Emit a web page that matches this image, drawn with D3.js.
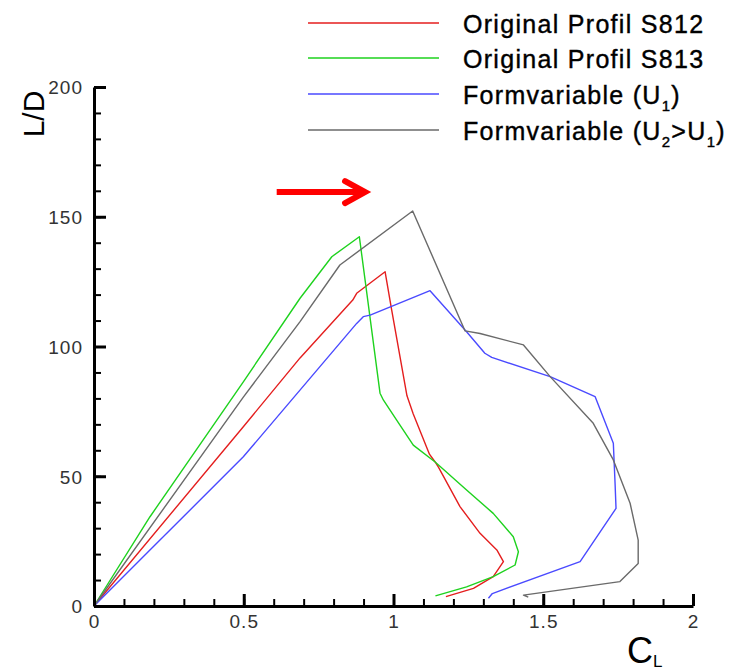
<!DOCTYPE html>
<html>
<head>
<meta charset="utf-8">
<script src="https://cdn.jsdelivr.net/npm/d3@7/dist/d3.min.js"></script>
<style>
  html, body { margin: 0; padding: 0; background: #fff; }
  svg { display: block; }
</style>
</head>
<body>
<svg id="chart" width="748" height="671"></svg>
<script>
// ---- data (C_L, L/D) ----
const s812CL = [0, 0.4986, 0.688, 0.864, 0.877, 0.972, 0.994, 1.045, 1.066, 1.12, 1.139, 1.15, 1.222, 1.289, 1.345, 1.367, 1.333, 1.267, 1.175];
const s812LD = [0, 69.1, 95.6, 117.9, 120.5, 128.8, 114, 81, 74, 58.5, 55.5, 53.5, 38.3, 28, 21.6, 17.1, 11.3, 6.8, 3.6];

const s813CL = [0, 0.187, 0.4986, 0.688, 0.794, 0.886, 0.955, 0.966, 1.01, 1.066, 1.139, 1.244, 1.333, 1.4, 1.417, 1.406, 1.333, 1.244, 1.14];
const s813LD = [0, 34.4, 86.4, 118.6, 134.6, 142.3, 82, 79.4, 71.7, 62, 55.5, 44.7, 35.7, 26.7, 20.9, 15.8, 11.3, 7.4, 3.9];

const u1CL = [0, 0.176, 0.4986, 0.877, 0.899, 0.922, 1.122, 1.244, 1.305, 1.328, 1.523, 1.673, 1.734, 1.74, 1.743, 1.623, 1.33, 1.317];
const u1LD = [0, 20.3, 57.5, 108.9, 111.5, 112.1, 121.5, 105.7, 97.4, 95.8, 88.4, 80.7, 62.7, 46.6, 37.6, 17.1, 4.8, 3.0];

const u2CL = [0, 0.4986, 0.688, 0.821, 1.064, 1.239, 1.289, 1.434, 1.523, 1.667, 1.734, 1.79, 1.817, 1.817, 1.756, 1.434, 1.45];
const u2LD = [0, 80.5, 109.6, 131.4, 152.2, 106, 105, 100.6, 88.4, 70.4, 56.3, 39.6, 25.4, 16.4, 9.4, 4.2, 3.4];

const seriesNames = ["Original Profil S812", "Original Profil S813", "Formvariable (U1)", "Formvariable (U2>U1)"];
const seriesColors = ["#e41e1e", "#1ed21e", "#4a4aff", "#6a6a6a"];

const xTicks = [0, 0.5, 1, 1.5, 2];
const xTickLabels = ["0", "0.5", "1", "1.5", "2"];
const yTicks = [0, 50, 100, 150, 200];
const yTickLabels = ["0", "50", "100", "150", "200"];

// annotation arrow (in data coordinates)
const arrowCL = [0.61, 0.905];
const arrowLD = 159.5;

// ---- drawing ----
const svg = d3.select("#chart");
const x = d3.scaleLinear().domain([0, 2]).range([94, 693]);
const y = d3.scaleLinear().domain([0, 200]).range([606, 87]);

const fontFam = "'Liberation Sans', Arial, sans-serif";

// data lines
const series = [
  { cl: s812CL, ld: s812LD },
  { cl: s813CL, ld: s813LD },
  { cl: u1CL, ld: u1LD },
  { cl: u2CL, ld: u2LD }
];
const line = d3.line().x(d => x(d[0])).y(d => y(d[1]));
series.forEach((s, i) => {
  const pts = s.cl.map((c, j) => [c, s.ld[j]]);
  svg.append("path")
    .attr("d", line(pts))
    .attr("fill", "none")
    .attr("stroke", seriesColors[i])
    .attr("stroke-width", 1.4)
    .attr("stroke-linejoin", "round");
});

// minor ticks
const xMinor = d3.axisBottom(x).tickValues(d3.range(0, 2.001, 0.1)).tickSizeInner(-7).tickSizeOuter(0).tickFormat("");
const yMinor = d3.axisLeft(y).tickValues(d3.range(0, 200.1, 10)).tickSizeInner(-7).tickSizeOuter(0).tickFormat("");
svg.append("g").attr("transform", `translate(0,${y(0)})`).call(xMinor)
  .call(g => g.select(".domain").remove())
  .selectAll("line").attr("stroke", "#000").attr("stroke-width", 2);
svg.append("g").attr("transform", `translate(${x(0)},0)`).call(yMinor)
  .call(g => g.select(".domain").remove())
  .selectAll("line").attr("stroke", "#000").attr("stroke-width", 2);

// major axes
const xAxis = d3.axisBottom(x).tickValues(xTicks).tickSizeInner(-12).tickSizeOuter(0)
  .tickPadding(20).tickFormat((d, i) => xTickLabels[i]);
const yAxis = d3.axisLeft(y).tickValues(yTicks).tickSizeInner(-12).tickSizeOuter(0)
  .tickPadding(24).tickFormat((d, i) => yTickLabels[i]);

const gx = svg.append("g").attr("transform", `translate(0,${y(0)})`).call(xAxis);
const gy = svg.append("g").attr("transform", `translate(${x(0)},0)`).call(yAxis);
[gx, gy].forEach(g => {
  g.select(".domain").attr("stroke", "#000").attr("stroke-width", 3);
  g.selectAll(".tick line").attr("stroke", "#000").attr("stroke-width", 3);
  g.selectAll(".tick text")
    .attr("font-family", fontFam)
    .attr("font-size", 19)
    .attr("letter-spacing", 1)
    .attr("fill", "#333");
});
gy.selectAll(".tick text").attr("x", -11).attr("dy", "0.36em");
gx.selectAll(".tick text").attr("y", 9).attr("dy", "0.71em");

// axis titles
svg.append("text")
  .attr("transform", "translate(44,114) rotate(-90)")
  .attr("text-anchor", "middle")
  .attr("font-family", fontFam)
  .attr("font-size", 30)
  .attr("fill", "#000")
  .text("L/D");

const cl = svg.append("text")
  .attr("x", 627).attr("y", 663)
  .attr("font-family", fontFam)
  .attr("font-size", 36)
  .attr("fill", "#000");
cl.append("tspan").text("C");
cl.append("tspan").attr("font-size", 17).attr("dy", 4).text("L");

// legend
const legY = [23, 58, 94, 130];
const leg = svg.append("g");
seriesNames.forEach((name, i) => {
  leg.append("line")
    .attr("x1", 308).attr("x2", 439)
    .attr("y1", legY[i]).attr("y2", legY[i])
    .attr("stroke", seriesColors[i]).attr("stroke-width", 1.5);
  const t = leg.append("text")
    .attr("x", 463).attr("y", legY[i] + 10)
    .attr("font-family", fontFam)
    .attr("font-size", 25)
    .attr("letter-spacing", 1.3)
    .attr("fill", "#000")
    .attr("stroke", "#000")
    .attr("stroke-width", 0.4);
  if (i < 2) {
    t.text(name);
  } else if (i === 2) {
    t.append("tspan").text("Formvariable (U");
    t.append("tspan").attr("font-size", 15).attr("dy", 7).text("1");
    t.append("tspan").attr("dy", -7).text(")");
  } else {
    t.append("tspan").text("Formvariable (U");
    t.append("tspan").attr("font-size", 15).attr("dy", 7).text("2");
    t.append("tspan").attr("dy", -7).text(">U");
    t.append("tspan").attr("font-size", 15).attr("dy", 7).text("1");
    t.append("tspan").attr("dy", -7).text(")");
  }
});

// red arrow annotation
const ax0 = x(arrowCL[0]), ax1 = x(arrowCL[1]), ay = y(arrowLD);
svg.append("path")
  .attr("d", `M${ax0},${ay}L${ax1 - 2},${ay}`)
  .attr("stroke", "#ff0000").attr("stroke-width", 6).attr("fill", "none");
svg.append("path")
  .attr("d", `M${ax1 - 20},${ay - 11}L${ax1},${ay}L${ax1 - 20},${ay + 11}`)
  .attr("stroke", "#ff0000").attr("stroke-width", 6).attr("fill", "none")
  .attr("stroke-linecap", "round").attr("stroke-linejoin", "miter");
</script>
</body>
</html>
